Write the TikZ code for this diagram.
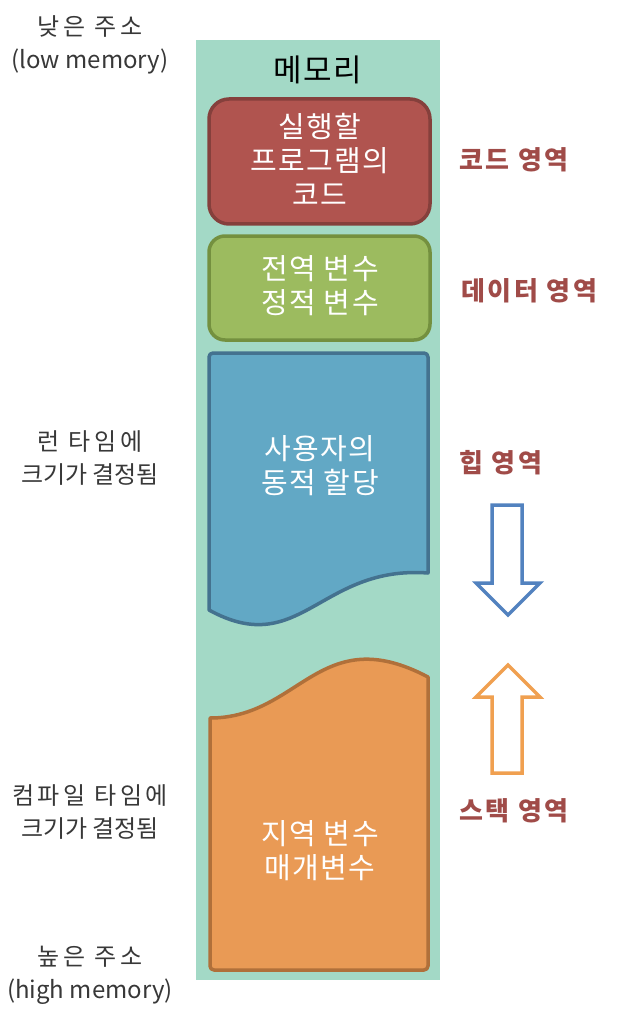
\documentclass[tikz,border=0pt]{standalone}
\usepackage{fontspec}
\setmainfont{Noto Sans CJK KR}
\newfontfamily\widekr{Noto Sans CJK KR}[LetterSpace=15]
\newfontfamily\boxkr{Noto Sans CJK KR}[LetterSpace=5]
\newfontfamily\labelkr{Noto Sans CJK KR}[LetterSpace=10]
\definecolor{memteal}{HTML}{A3D9C6}
\definecolor{codefill}{HTML}{B0544F}
\definecolor{codeline}{HTML}{85403C}
\definecolor{datafill}{HTML}{9CBB5F}
\definecolor{dataline}{HTML}{74903F}
\definecolor{heapfill}{HTML}{62A8C5}
\definecolor{heapline}{HTML}{44728F}
\definecolor{stackfill}{HTML}{E99A55}
\definecolor{stackline}{HTML}{B0703A}
\definecolor{downarrow}{HTML}{5282BF}
\definecolor{uparrow}{HTML}{F0A050}
\definecolor{regionred}{HTML}{A04B48}
\definecolor{sidegray}{HTML}{383838}
\tikzset{
  segment/.style={line width=3.5pt, line join=round},
  inner/.style={text=white, align=center, font=\fontsize{29}{34}\boxkr},
  region/.style={text=regionred, font=\fontsize{26}{30}\labelkr\bfseries},
  side/.style={text=sidegray, align=center, font=\fontsize{24}{33}\selectfont},
  growth/.style={line width=3.5pt, line join=miter, fill=white},
}
\begin{document}
\begin{tikzpicture}[x=1pt, y=-1pt]
\useasboundingbox (0,0) rectangle (618,1032);
\fill[white] (0,0) rectangle (618,1032);

% memory column
\fill[memteal] (196,40) rectangle (440,980);
\node (title) at (318,70) {\fontsize{31}{33}\boxkr 메모리};

% code segment
\draw[segment, fill=codefill, draw=codeline, rounded corners=20pt]
  (209,99) rectangle (430,224);
\node[inner] (code) at (320,159) {실행할\\프로그램의\\코드};

% data segment
\draw[segment, fill=datafill, draw=dataline, rounded corners=16pt]
  (209,236) rectangle (430,340);
\node[inner] (data) at (320,286) {전역 변수\\정적 변수};

% heap segment with wavy lower edge
\draw[segment, fill=heapfill, draw=heapline]
  (209,610) [rounded corners=4pt] -- (209,353) -- (428,353) [sharp corners] -- (428,573)
  .. controls (320,565) and (300,660) .. (209,610) -- cycle;
\node[inner] (heap) at (320,466) {사용자의\\동적 할당};

% stack segment with wavy upper edge
\draw[segment, fill=stackfill, draw=stackline]
  (210,718) .. controls (300,718) and (320,620) .. (428,677)
  [rounded corners=4pt] -- (428,970) -- (210,970) [sharp corners] -- (210,718) -- cycle;
\node[inner] (stack) at (320,851) {지역 변수\\매개변수};

% region names
\node[region] (rcode) at (514,160) {코드 영역};
\node[region] (rdata) at (529,291) {데이터 영역};
\node[region] (rheap) at (501,463) {힙 영역};
\node[region] (rstack) at (514,811) {스택 영역};

% growth directions
\draw[growth, draw=downarrow]
  (492,505) -- (522,505) -- (522,583) -- (540,583) -- (508,615)
  -- (476,583) -- (492,583) -- cycle;
\draw[growth, draw=uparrow]
  (492,773) -- (522,773) -- (522,697) -- (540,697) -- (508,665)
  -- (476,697) -- (492,697) -- cycle;

% address and sizing notes
\node[side] (low) at (90,45) {{\widekr 낮은 주소}\\(low memory)};
\node[side] (runtime) at (90,458) {\widekr 런 타임에\\크기가 결정됨};
\node[side] (compile) at (90,812) {\widekr 컴파일 타임에\\크기가 결정됨};
\node[side] (high) at (90,975) {{\widekr 높은 주소}\\(high memory)};
\end{tikzpicture}
\end{document}
